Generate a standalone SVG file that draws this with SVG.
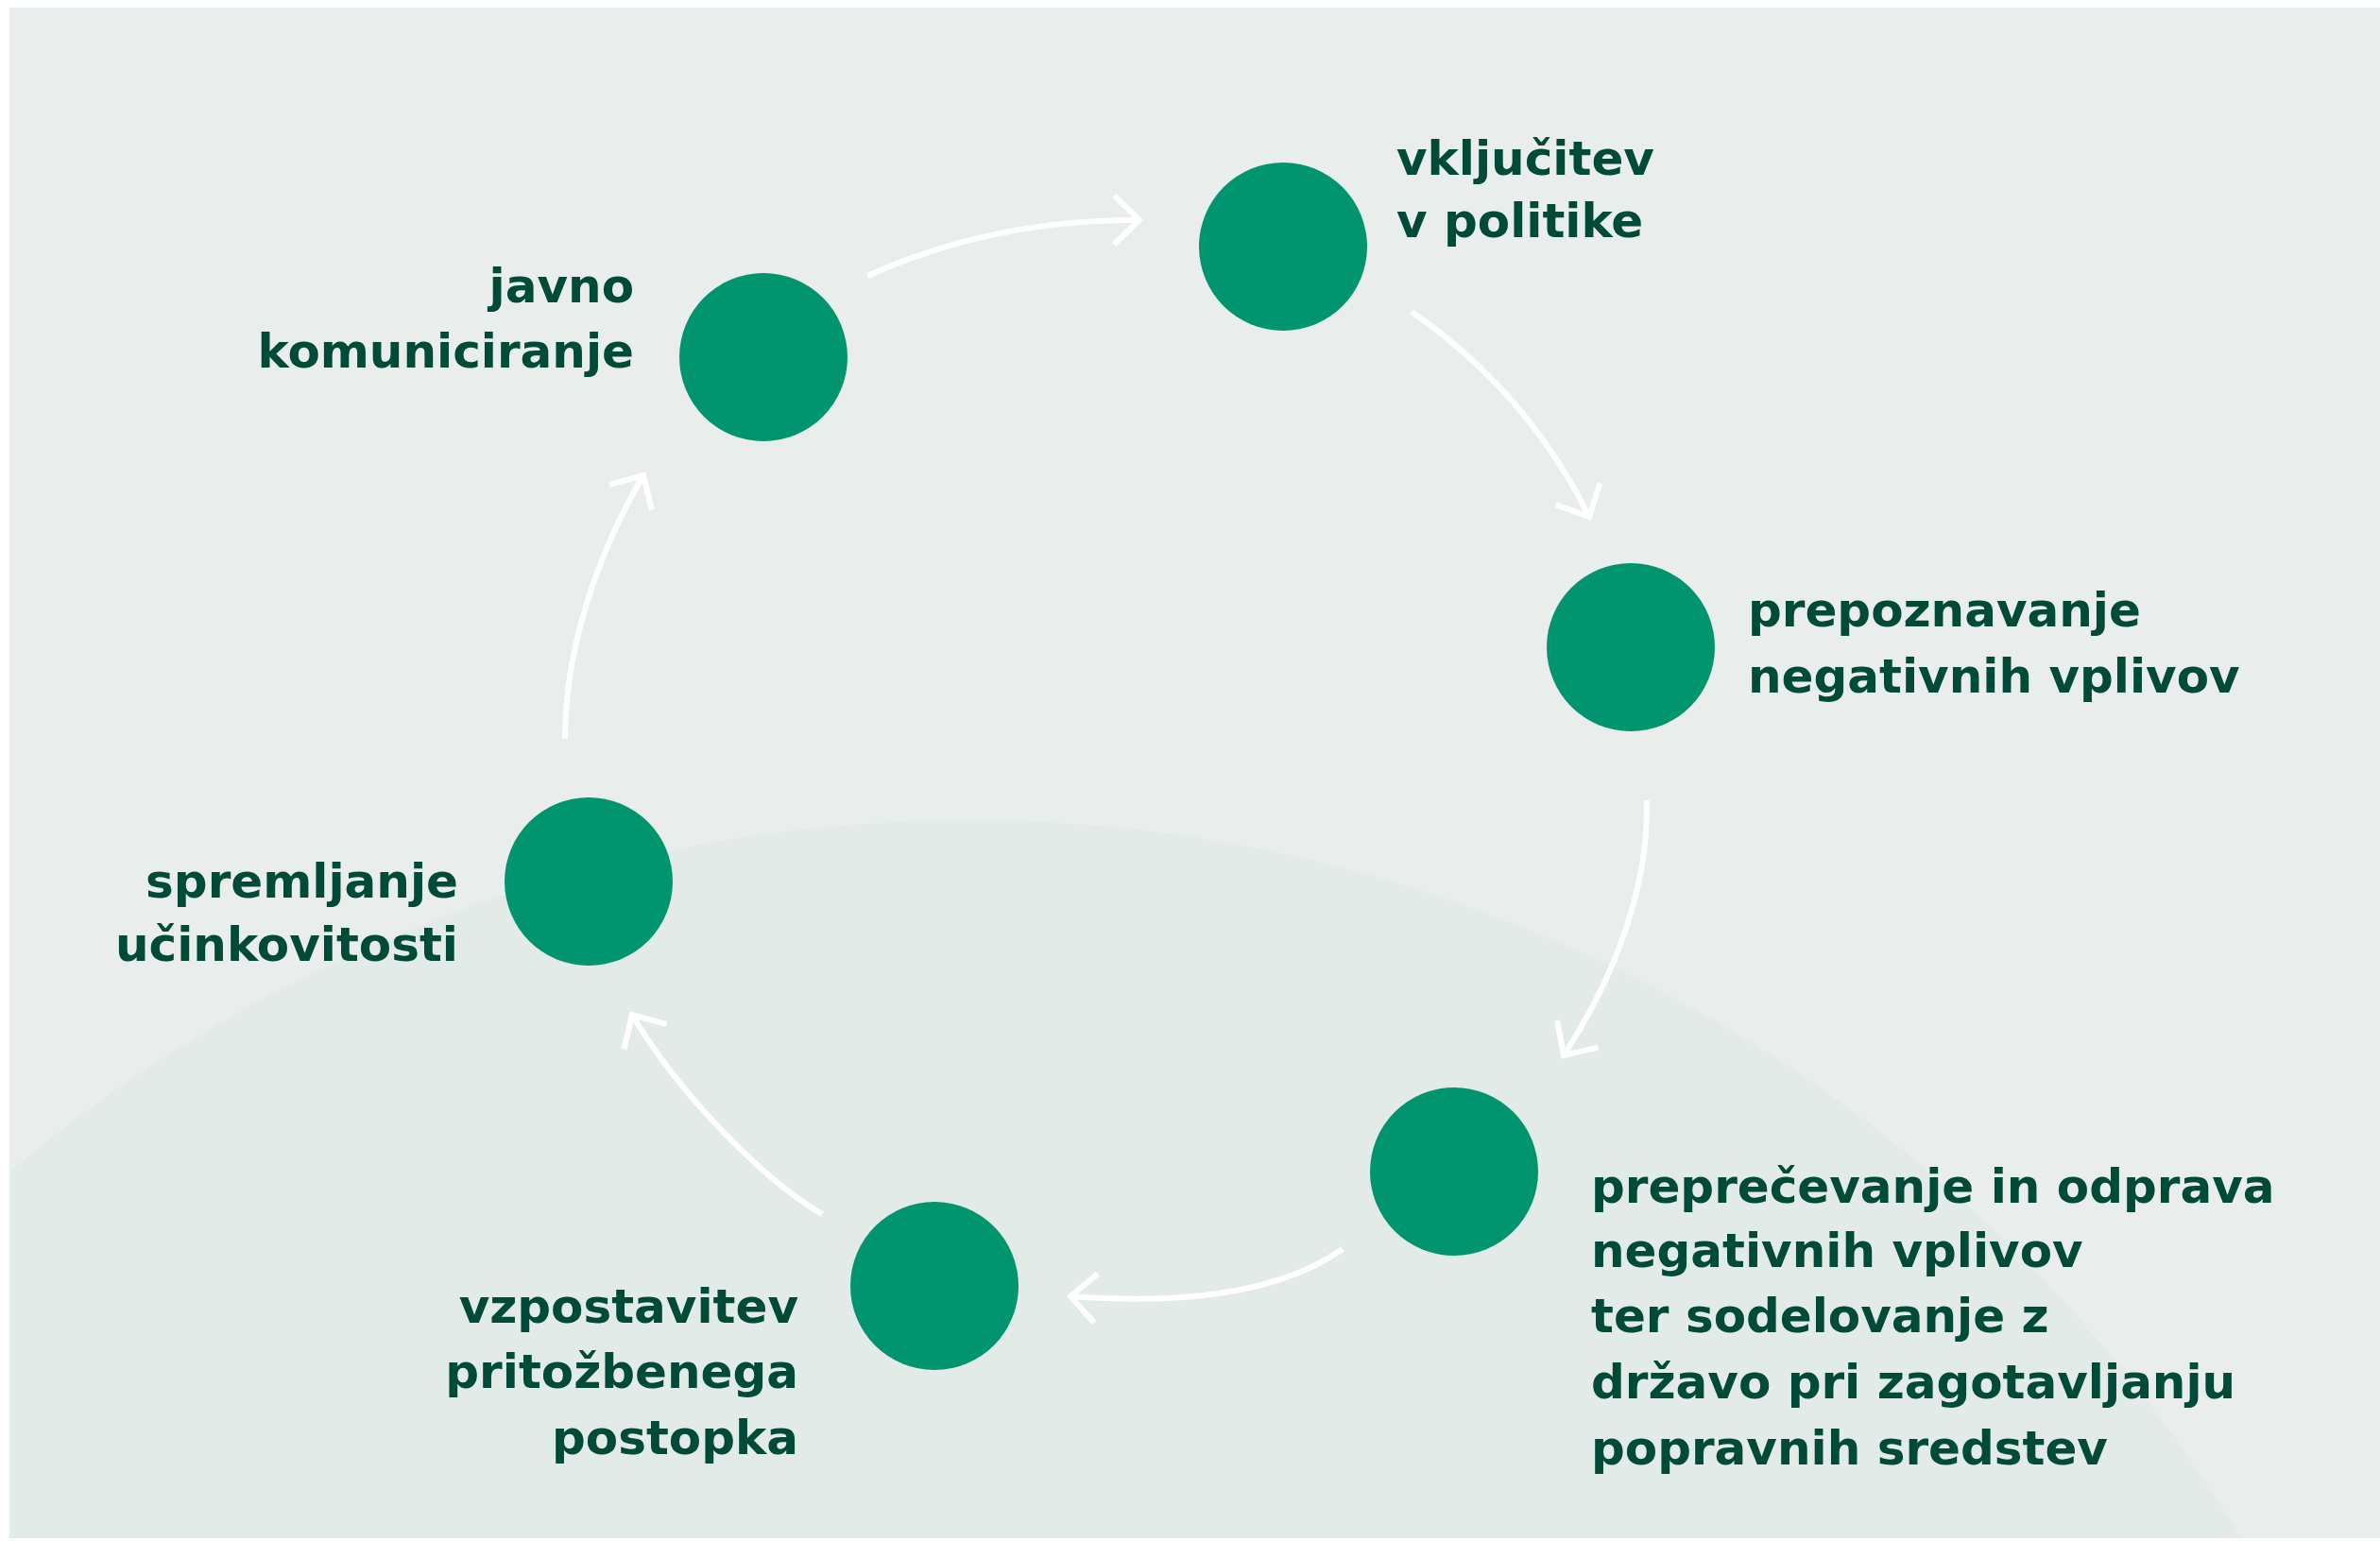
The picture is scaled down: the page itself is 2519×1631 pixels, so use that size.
<svg xmlns="http://www.w3.org/2000/svg" width="2519" height="1631" viewBox="0 0 2519 1631">
  <defs>
    <clipPath id="bgclip">
      <rect x="10" y="8" width="2509" height="1620"/>
    </clipPath>
    <marker id="chev" markerUnits="userSpaceOnUse" markerWidth="80" markerHeight="80" viewBox="-40 -40 80 80" refX="0" refY="0" orient="auto">
      <path d="M-27,-26 L0,0 L-27,26" fill="none" stroke="#ffffff" stroke-width="6" stroke-linejoin="miter"/>
    </marker>
    <style>
      .node { fill: #00946f; }
      .lbl { font-family: "DejaVu Sans", "Liberation Sans", sans-serif; font-weight: bold; font-size: 50px; fill: #004a38; }
      .end { text-anchor: end; }
      .conn { fill: none; stroke: #ffffff; stroke-width: 6; marker-end: url(#chev); }
    </style>
  </defs>

  <g id="background">
    <rect x="10" y="8" width="2509" height="1620" fill="#e9eeec"/>
    <circle cx="1026" cy="2440" r="1572" fill="#e2ebe7" clip-path="url(#bgclip)"/>
  </g>

  <g id="connectors">
    <path class="conn" d="M918,292 Q1051,232 1206,233"/>
    <path class="conn" d="M1494,330 Q1617,415 1682,547"/>
    <path class="conn" d="M1743,847 C1745,935 1712,1030 1655,1117"/>
    <path class="conn" d="M1421,1322 C1350,1372 1240,1380 1133,1372"/>
    <path class="conn" d="M870,1285 C810,1250 720,1160 669,1074"/>
    <path class="conn" d="M598,782 C598,690 630,590 681,503"/>
  </g>

  <g id="node-javno-komuniciranje">
    <circle class="node" cx="808" cy="378" r="89"/>
    <text class="lbl end" x="671" y="320">javno</text>
    <text class="lbl end" x="671" y="389">komuniciranje</text>
  </g>

  <g id="node-vkljucitev">
    <circle class="node" cx="1358" cy="261" r="89"/>
    <text class="lbl" x="1478" y="185">vključitev</text>
    <text class="lbl" x="1478" y="251">v politike</text>
  </g>

  <g id="node-prepoznavanje">
    <circle class="node" cx="1726" cy="685" r="89"/>
    <text class="lbl" x="1850" y="663">prepoznavanje</text>
    <text class="lbl" x="1850" y="733">negativnih vplivov</text>
  </g>

  <g id="node-preprecevanje">
    <circle class="node" cx="1539" cy="1240" r="89"/>
    <text class="lbl" x="1684" y="1273">preprečevanje in odprava</text>
    <text class="lbl" x="1684" y="1341">negativnih vplivov</text>
    <text class="lbl" x="1684" y="1410">ter sodelovanje z</text>
    <text class="lbl" x="1684" y="1480">državo pri zagotavljanju</text>
    <text class="lbl" x="1684" y="1550">popravnih sredstev</text>
  </g>

  <g id="node-vzpostavitev">
    <circle class="node" cx="989" cy="1361" r="89"/>
    <text class="lbl end" x="845" y="1400">vzpostavitev</text>
    <text class="lbl end" x="845" y="1469">pritožbenega</text>
    <text class="lbl end" x="845" y="1539">postopka</text>
  </g>

  <g id="node-spremljanje">
    <circle class="node" cx="623" cy="933" r="89"/>
    <text class="lbl end" x="485" y="950">spremljanje</text>
    <text class="lbl end" x="485" y="1017">učinkovitosti</text>
  </g>
</svg>
